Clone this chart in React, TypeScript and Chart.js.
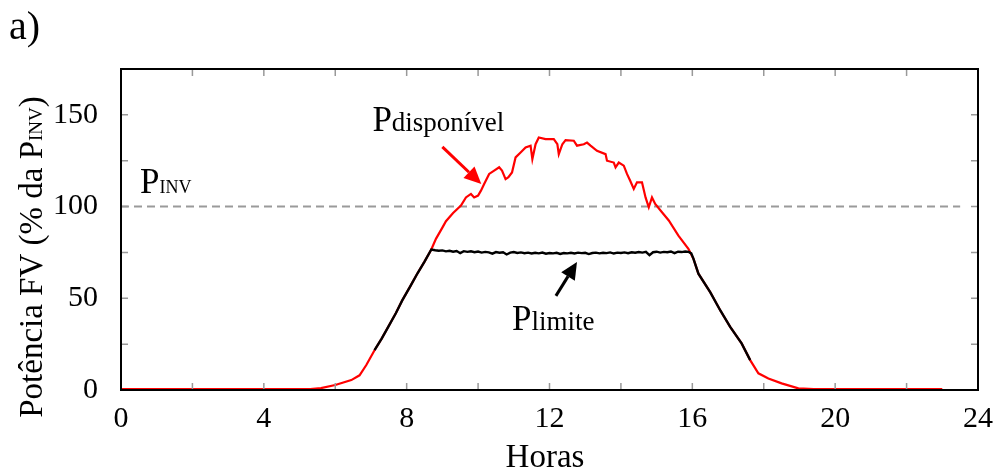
import React, { useEffect, useRef } from 'react';
import { Chart, registerables } from 'chart.js';

Chart.register(...registerables);

// ---- data ----
const xTickLabels = [0, 4, 8, 12, 16, 20, 24];
const yTickLabels = [0, 50, 100, 150];

const redHours = [
  0, 5.3, 5.6, 6.0, 6.45, 6.68, 6.87, 7.1, 7.3, 7.5, 7.7, 7.88, 8.1, 8.3, 8.5, 8.69, 8.82, 9.0, 9.1, 9.3,
  9.52, 9.66, 9.8, 9.89, 10.0, 10.08, 10.17, 10.31, 10.45, 10.59, 10.67, 10.77, 10.85, 10.95, 11.05, 11.19,
  11.33, 11.47, 11.52, 11.61, 11.7, 11.89, 11.98, 12.12, 12.22, 12.26, 12.36, 12.45, 12.68, 12.77, 12.96,
  13.05, 13.15, 13.33, 13.57, 13.61, 13.8, 13.85, 13.94, 14.08, 14.17, 14.26, 14.36, 14.45, 14.59, 14.69,
  14.78, 14.87, 14.96, 15.15, 15.34, 15.61, 15.89, 16.03, 16.17, 16.5, 16.78, 17.06, 17.38, 17.62, 17.85,
  18.13, 18.5, 18.97, 19.4, 23.0,
];
const redValues = [
  0.5, 0.5, 1, 2.7, 5.4, 8, 13.6, 21.7, 28, 35, 42, 49, 56.5, 63.5, 70, 76.6, 82.4, 88.5, 92, 96.5,
  100.5, 105, 106.9, 105, 106, 108.7, 112.3, 117.8, 119.6, 121.4, 119.6, 115, 116, 118.6, 126.8, 129.5,
  132.2, 133.2, 125.9, 134, 137.7, 136.8, 136.8, 136.8, 134, 128.6, 134, 136.2, 135.9, 133.2, 134,
  134.9, 133.2, 130.4, 128.6, 125, 124, 121.4, 124, 122.3, 117.8, 114.1, 109.6, 113.2, 113.2, 105,
  99.6, 105, 101.4, 96.9, 92.4, 84.2, 77, 71.6, 63.4, 53.4, 43.5, 34.4, 25.4, 16.3, 9.1,
  6.3, 3.6, 0.9, 0.5, 0.5,
];

const blackHours = [
  7.1, 7.3, 7.5, 7.7, 7.88, 8.1, 8.3, 8.5, 8.69,
  8.8, 8.9, 9.0, 9.1, 9.2, 9.3, 9.4, 9.5, 9.6, 9.7, 9.8, 9.9, 10.0, 10.1, 10.2, 10.3, 10.4, 10.5, 10.6,
  10.7, 10.8, 10.9, 11.0, 11.1, 11.2, 11.3, 11.4, 11.5, 11.6, 11.7, 11.8, 11.9, 12.0, 12.1, 12.2, 12.3,
  12.4, 12.5, 12.6, 12.7, 12.8, 12.9, 13.0, 13.1, 13.2, 13.3, 13.4, 13.5, 13.6, 13.7, 13.8, 13.9, 14.0,
  14.1, 14.2, 14.3, 14.4, 14.5, 14.6, 14.7, 14.8, 14.9, 15.0, 15.1, 15.2, 15.3, 15.4, 15.5, 15.6, 15.7,
  15.8, 15.9, 15.97,
  16.03, 16.17, 16.5, 16.78, 17.06, 17.38, 17.62,
];
const blackValues = [
  21.7, 28, 35, 42, 49, 56.5, 63.5, 70, 76.6,
  76.2, 75.9, 76.1, 75.6, 75.9, 75.4, 75.8, 74.6, 75.7, 75.3, 75.6, 75.1, 75.5, 74.9, 75.3, 75.0, 74.3, 75.2, 74.8,
  75.1, 73.9, 74.9, 75.2, 74.7, 75.0, 74.6, 74.9, 74.4, 74.8, 74.5, 74.9, 74.3, 74.7, 74.5, 74.8, 74.2,
  74.7, 74.5, 74.8, 74.4, 74.9, 74.6, 74.8, 74.1, 74.7, 74.9, 74.5, 74.8, 74.6, 75.0, 74.4, 74.9, 74.7,
  75.0, 74.6, 75.1, 74.8, 75.2, 74.9, 75.3, 73.5, 75.1, 75.4, 74.9, 75.3, 75.1, 75.5, 74.6, 75.4, 75.2,
  75.5, 75.3, 74.5,
  71.6, 63.4, 53.4, 43.5, 34.4, 25.4, 16.3,
];

const inverterHours = [0, 23.5];
const inverterValues = [100, 100];

const SERIF = "'Liberation Serif', 'Times New Roman', serif";

// annotation anchors in data coordinates
const labelInv = { x: 0.53, y: 107.4 };
const labelDisp = { x: 7.04, y: 141.2 };
const labelLim = { x: 10.95, y: 32.7 };
const arrowDisp = { x1: 9.0, y1: 132.5, x2: 10.09, y2: 112.3 };
const arrowLim = { x1: 12.18, y1: 51.3, x2: 12.77, y2: 69.8 };

function pts(xs: number[], ys: number[]) {
  return xs.map((x, i) => ({ x, y: ys[i] }));
}

function subText(ctx: CanvasRenderingContext2D, x: number, y: number, main: string, sub: string, mainSize: number, subSize: number) {
  ctx.textAlign = 'left';
  ctx.textBaseline = 'alphabetic';
  ctx.font = `${mainSize}px ${SERIF}`;
  ctx.fillText(main, x, y);
  const w = ctx.measureText(main).width;
  ctx.font = `${subSize}px ${SERIF}`;
  ctx.fillText(sub, x + w, y);
}

function arrow(ctx: CanvasRenderingContext2D, x1: number, y1: number, x2: number, y2: number, color: string) {
  const ang = Math.atan2(y2 - y1, x2 - x1);
  const headLen = 17;
  const headW = 8;
  const bx = x2 - headLen * Math.cos(ang);
  const by = y2 - headLen * Math.sin(ang);
  ctx.strokeStyle = color;
  ctx.fillStyle = color;
  ctx.lineWidth = 3;
  ctx.beginPath();
  ctx.moveTo(x1, y1);
  ctx.lineTo(bx, by);
  ctx.stroke();
  ctx.beginPath();
  ctx.moveTo(x2, y2);
  ctx.lineTo(bx + headW * Math.sin(ang), by - headW * Math.cos(ang));
  ctx.lineTo(bx - headW * Math.sin(ang), by + headW * Math.cos(ang));
  ctx.closePath();
  ctx.fill();
}

const framePlugin = {
  id: 'frame',
  afterDraw(chart: any) {
    const { ctx, chartArea } = chart;
    const xs = chart.scales.x;
    const ys = chart.scales.y;
    const { left, right, top, bottom } = chartArea;
    ctx.save();
    // inward ticks
    ctx.strokeStyle = '#999';
    ctx.lineWidth = 1.5;
    const tl = 7;
    for (let h = 2; h < 24; h += 2) {
      const px = xs.getPixelForValue(h);
      ctx.beginPath();
      ctx.moveTo(px, bottom);
      ctx.lineTo(px, bottom - tl);
      ctx.moveTo(px, top);
      ctx.lineTo(px, top + tl);
      ctx.stroke();
    }
    for (let v = 25; v < 175; v += 25) {
      const py = ys.getPixelForValue(v);
      ctx.beginPath();
      ctx.moveTo(left, py);
      ctx.lineTo(left + tl, py);
      ctx.moveTo(right, py);
      ctx.lineTo(right - tl, py);
      ctx.stroke();
    }
    // frame
    ctx.strokeStyle = '#000';
    ctx.lineWidth = 2;
    ctx.strokeRect(left, top, right - left, bottom - top);

    // annotations
    ctx.fillStyle = '#000';
    subText(ctx, xs.getPixelForValue(labelInv.x), ys.getPixelForValue(labelInv.y), 'P', 'INV', 35, 18);
    subText(ctx, xs.getPixelForValue(labelDisp.x), ys.getPixelForValue(labelDisp.y), 'P', 'disponível', 35, 27);
    subText(ctx, xs.getPixelForValue(labelLim.x), ys.getPixelForValue(labelLim.y), 'P', 'limite', 35, 27);
    arrow(ctx, xs.getPixelForValue(arrowDisp.x1), ys.getPixelForValue(arrowDisp.y1), xs.getPixelForValue(arrowDisp.x2), ys.getPixelForValue(arrowDisp.y2), '#ff0000');
    arrow(ctx, xs.getPixelForValue(arrowLim.x1), ys.getPixelForValue(arrowLim.y1), xs.getPixelForValue(arrowLim.x2), ys.getPixelForValue(arrowLim.y2), '#000');

    // x title
    ctx.fillStyle = '#000';
    ctx.font = `33px ${SERIF}`;
    ctx.textAlign = 'center';
    ctx.textBaseline = 'alphabetic';
    ctx.fillText('Horas', 545, 467);

    // y title (rotated, with subscript)
    ctx.save();
    ctx.translate(42, 257);
    ctx.rotate(-Math.PI / 2);
    const m1 = 'Potência FV (% da P';
    const s1 = 'INV';
    const m2 = ')';
    ctx.font = `33px ${SERIF}`;
    const w1 = ctx.measureText(m1).width;
    const w3 = ctx.measureText(m2).width;
    ctx.font = `19px ${SERIF}`;
    const w2 = ctx.measureText(s1).width;
    const total = w1 + w2 + w3;
    const x0 = -total / 2;
    ctx.textAlign = 'left';
    ctx.font = `33px ${SERIF}`;
    ctx.fillText(m1, x0, 0);
    ctx.font = `19px ${SERIF}`;
    ctx.fillText(s1, x0 + w1, 0);
    ctx.font = `33px ${SERIF}`;
    ctx.fillText(m2, x0 + w1 + w2, 0);
    ctx.restore();

    // panel label
    ctx.font = `40px ${SERIF}`;
    ctx.textAlign = 'left';
    ctx.fillText('a)', 9, 39);
    ctx.restore();
  },
};

export default function App() {
  const ref = useRef<HTMLCanvasElement | null>(null);
  useEffect(() => {
    if (!ref.current) return;
    const chart = new Chart(ref.current, {
      type: 'line',
      data: {
        datasets: [
          {
            label: 'Plimite',
            data: pts(blackHours, blackValues),
            borderColor: '#000',
            borderWidth: 2.4,
            pointRadius: 0,
            tension: 0,
            order: 0,
          },
          {
            label: 'Pdisponível',
            data: pts(redHours, redValues),
            borderColor: '#ff0000',
            borderWidth: 2.2,
            pointRadius: 0,
            tension: 0,
            order: 1,
          },
          {
            label: 'PINV',
            data: pts(inverterHours, inverterValues),
            borderColor: '#9a9a9a',
            borderWidth: 2,
            borderDash: [8, 5],
            pointRadius: 0,
            order: 2,
          },
        ],
      },
      options: {
        animation: false,
        responsive: true,
        maintainAspectRatio: false,
        layout: { padding: { top: 69, right: 16, left: 0, bottom: 0 } },
        plugins: { legend: { display: false }, tooltip: { enabled: false } },
        scales: {
          x: {
            type: 'linear',
            min: 0,
            max: 24,
            grid: { display: false },
            border: { display: false },
            ticks: {
              stepSize: 4,
              autoSkip: false,
              maxRotation: 0,
              padding: 3,
              color: '#000',
              font: { family: SERIF, size: 30 },
              callback: (v: any) => (xTickLabels.includes(Number(v)) ? String(v) : ''),
            },
            afterFit: (s: any) => {
              s.height = 82;
            },
          },
          y: {
            type: 'linear',
            min: 0,
            max: 175,
            grid: { display: false },
            border: { display: false },
            ticks: {
              stepSize: 50,
              autoSkip: false,
              padding: 15,
              color: '#000',
              font: { family: SERIF, size: 30 },
              callback: (v: any) => (yTickLabels.includes(Number(v)) ? String(v) : ''),
            },
            afterFit: (s: any) => {
              s.width = 121;
            },
          },
        },
      },
      plugins: [framePlugin],
    });
    return () => chart.destroy();
  }, []);
  return (
    <div style={{ position: 'absolute', left: 0, top: 0, width: 996, height: 472, background: '#fff' }}>
      <canvas ref={ref} />
    </div>
  );
}
